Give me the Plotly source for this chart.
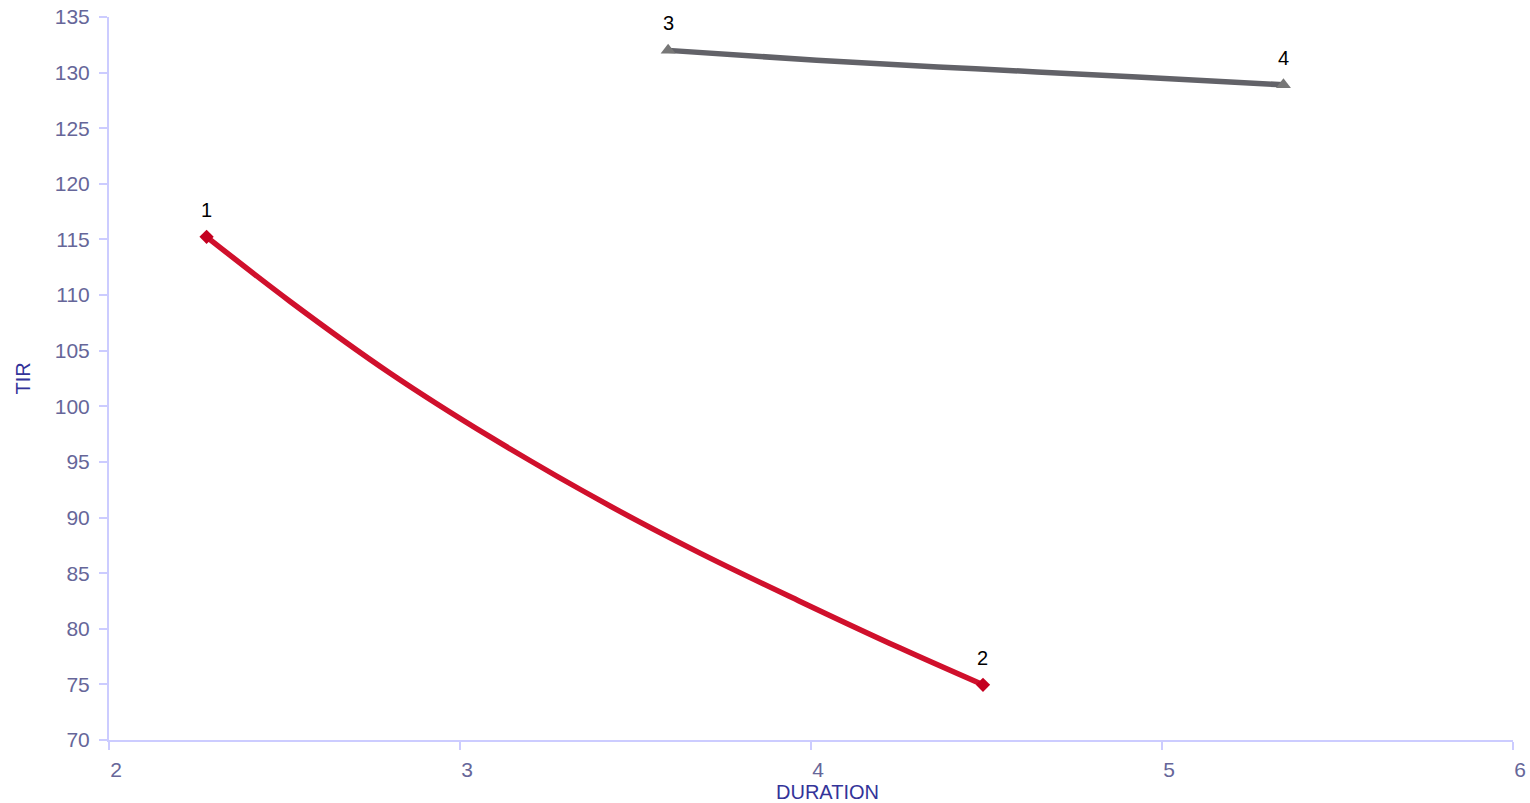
import plotly.graph_objects as go

# Curve 1 (red)
red_x = [2.278, 2.516, 2.80, 3.085, 3.418, 3.684, 3.966, 4.254, 4.49]
red_y = [115.24, 109.43, 103.0, 97.27, 91.2, 86.8, 82.5, 78.26, 74.96]
# Curve 2 (grey)
grey_x = [3.593, 4.016, 4.469, 4.929, 5.346]
grey_y = [132.0, 131.11, 130.34, 129.61, 128.9]

# Labelled end points
pt_labels = ["1", "2", "3", "4"]
pt_x = [2.278, 4.49, 3.593, 5.346]
pt_y = [115.24, 74.96, 132.0, 128.9]

x_ticks = [2, 3, 4, 5, 6]
y_ticks = [70, 75, 80, 85, 90, 95, 100, 105, 110, 115, 120, 125, 130, 135]

FONT = "Liberation Sans, Arial, sans-serif"
RED = "#d0102c"
GREY = "#626268"

fig = go.Figure()
fig.add_trace(go.Scatter(x=red_x, y=red_y, mode="lines",
                         line=dict(color=RED, width=5.5, shape="spline", smoothing=1.0),
                         showlegend=False, hoverinfo="skip"))
fig.add_trace(go.Scatter(x=grey_x, y=grey_y, mode="lines",
                         line=dict(color=GREY, width=5.5, shape="spline", smoothing=1.0),
                         showlegend=False, hoverinfo="skip"))
fig.add_trace(go.Scatter(x=pt_x[:2], y=pt_y[:2], mode="markers",
                         marker=dict(symbol="diamond", size=11, color="#c40020"),
                         showlegend=False))
fig.add_trace(go.Scatter(x=pt_x[2:], y=pt_y[2:], mode="markers",
                         marker=dict(symbol="triangle-up", size=13, color="#777777"),
                         showlegend=False))

for lab, xx, yy in zip(pt_labels, pt_x, pt_y):
    fig.add_annotation(x=xx, y=yy, text=lab, showarrow=False, yshift=27,
                       font=dict(family=FONT, size=20, color="#000000"))

fig.add_annotation(xref="paper", yref="paper", x=0.5, y=0, xshift=16, yshift=-52,
                   xanchor="center", yanchor="middle",
                   text="DURATION", showarrow=False,
                   font=dict(family=FONT, size=20, color="#333399"))
fig.add_annotation(xref="paper", yref="paper", x=0, y=0.5, xshift=-87,
                   xanchor="center", yanchor="middle",
                   text="TIR", showarrow=False, textangle=-90,
                   font=dict(family=FONT, size=20, color="#333399"))

fig.update_layout(
    width=1530, height=803,
    margin=dict(l=109, r=17, t=17, b=63),
    paper_bgcolor="white", plot_bgcolor="white",
    font=dict(family=FONT, size=21, color="#666699"),
    xaxis=dict(range=[2, 6], tickvals=x_ticks, showgrid=False, zeroline=False,
               automargin=False,
               showline=True, linecolor="#ccccff", linewidth=2,
               ticks="outside", ticklen=8, tickcolor="#ccccff", tickwidth=2,
               ticklabelshift=7, ticklabelstandoff=2, ticklabeloverflow="allow",
               tickfont=dict(size=21, color="#666699")),
    yaxis=dict(range=[70, 135], tickvals=y_ticks, showgrid=False, zeroline=False,
               automargin=False,
               showline=True, linecolor="#ccccff", linewidth=2,
               ticks="outside", ticklen=8, tickcolor="#ccccff", tickwidth=2,
               ticklabelstandoff=5, ticklabeloverflow="allow",
               tickfont=dict(size=21, color="#666699")),
)

# remove the default page margin so the 1530x803 figure fills the window exactly
fig.write_html("out.html", config={"displayModeBar": False},
               post_script="document.body.style.margin='0';")
